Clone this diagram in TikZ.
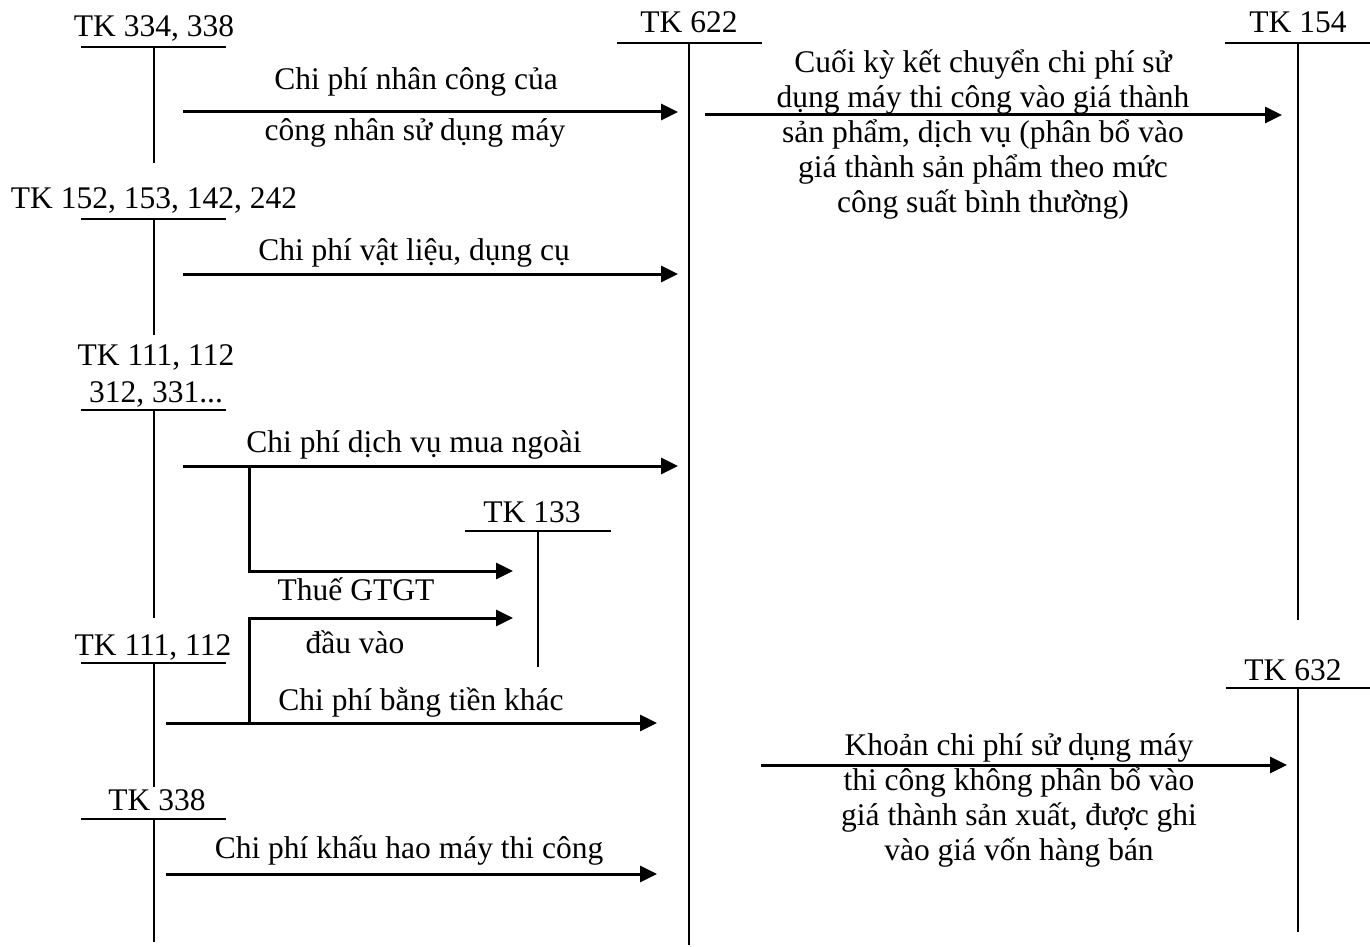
\documentclass[tikz,border=0pt]{standalone}
\usepackage{fontspec}
\setmainfont{Liberation Serif}
\usetikzlibrary{arrows.meta}
\begin{document}
\begin{tikzpicture}[x=1pt,y=-1pt,
  every node/.style={inner sep=0pt,outer sep=0pt},
  acct/.style={anchor=base,align=center,font=\fontsize{31.5}{37}\selectfont},
  lbl/.style={anchor=base,align=center,font=\fontsize{31.5}{35}\selectfont},
  tline/.style={line width=2pt},
  flow/.style={line width=3pt,-{Triangle[length=17pt,width=16pt]}},
  branch/.style={line width=3pt}]
\useasboundingbox (0,0) rectangle (1370,947);
% ---------- T accounts ----------
\node[acct] (tk334) at (154,37) {TK 334, 338};
\draw[tline] (81,47) -- (226,47);
\draw[tline] (154,47) -- (154,163);

\node[acct] (tk152) at (154,208) {TK 152, 153, 142, 242};
\draw[tline] (81,219) -- (226,219);
\draw[tline] (154,219) -- (154,335);

\node[acct] (tk111a) at (156,402) {TK 111, 112\\312, 331...};
\draw[tline] (81,410) -- (226,410);
\draw[tline] (154,410) -- (154,618);

\node[acct] (tk111b) at (153,655) {TK 111, 112};
\draw[tline] (81,663) -- (226,663);
\draw[tline] (154,663) -- (154,787);

\node[acct] (tk338) at (157,810) {TK 338};
\draw[tline] (81,819) -- (226,819);
\draw[tline] (154,819) -- (154,942);

\node[acct] (tk622) at (689,33) {TK 622};
\draw[tline] (617,43) -- (762,43);
\draw[tline] (689,43) -- (689,945);

\node[acct] (tk154) at (1298,33) {TK 154};
\draw[tline] (1225,43) -- (1370,43);
\draw[tline] (1298,43) -- (1298,620);

\node[acct] (tk133) at (532,522) {TK 133};
\draw[tline] (465,531) -- (611,531);
\draw[tline] (538,531) -- (538,667);

\node[acct] (tk632) at (1293,680) {TK 632};
\draw[tline] (1226,688) -- (1370,688);
\draw[tline] (1298,688) -- (1298,932);

% ---------- flows ----------
\coordinate (a1s) at (183,112); \coordinate (a1e) at (678,112);
\draw[flow] (a1s) -- (a1e);
\node[lbl] (l1a) at (416,90) {Chi phí nhân công của};
\node[lbl] (l1b) at (415,141) {công nhân sử dụng máy};

\coordinate (a2s) at (183,274); \coordinate (a2e) at (678,274);
\draw[flow] (a2s) -- (a2e);
\node[lbl] (l2) at (414,260) {Chi phí vật liệu, dụng cụ};

\coordinate (a3s) at (183,466); \coordinate (a3e) at (678,466);
\draw[flow] (a3s) -- (a3e);
\node[lbl] (l3) at (414,452) {Chi phí dịch vụ mua ngoài};

\coordinate (b1s) at (249,466); \coordinate (b1e) at (513,571);
\draw[flow] (b1s) |- (b1e);
\node[lbl] (l4) at (356,600) {Thuế GTGT};

\coordinate (b2s) at (249,723); \coordinate (b2e) at (513,618);
\draw[flow] (b2s) |- (b2e);
\node[lbl] (l5) at (355,653) {đầu vào};

\coordinate (a4s) at (166,723); \coordinate (a4e) at (657,723);
\draw[flow] (a4s) -- (a4e);
\node[lbl] (l6) at (421,710) {Chi phí bằng tiền khác};

\coordinate (a5s) at (166,874); \coordinate (a5e) at (657,874);
\draw[flow] (a5s) -- (a5e);
\node[lbl] (l7) at (409,858) {Chi phí khấu hao máy thi công};

\coordinate (a6s) at (705,115); \coordinate (a6e) at (1282,115);
\draw[flow] (a6s) -- (a6e);
\node[lbl] (l8) at (983,212) {Cuối kỳ kết chuyển chi phí sử\\dụng máy thi công vào giá thành\\sản phẩm, dịch vụ (phân bổ vào\\giá thành sản phẩm theo mức\\công suất bình thường)};

\coordinate (a7s) at (761,765); \coordinate (a7e) at (1287,765);
\draw[flow] (a7s) -- (a7e);
\node[lbl] (l9) at (1019,860) {Khoản chi phí sử dụng máy\\thi công không phân bổ vào\\giá thành sản xuất, được ghi\\vào giá vốn hàng bán};
\end{tikzpicture}
\end{document}
